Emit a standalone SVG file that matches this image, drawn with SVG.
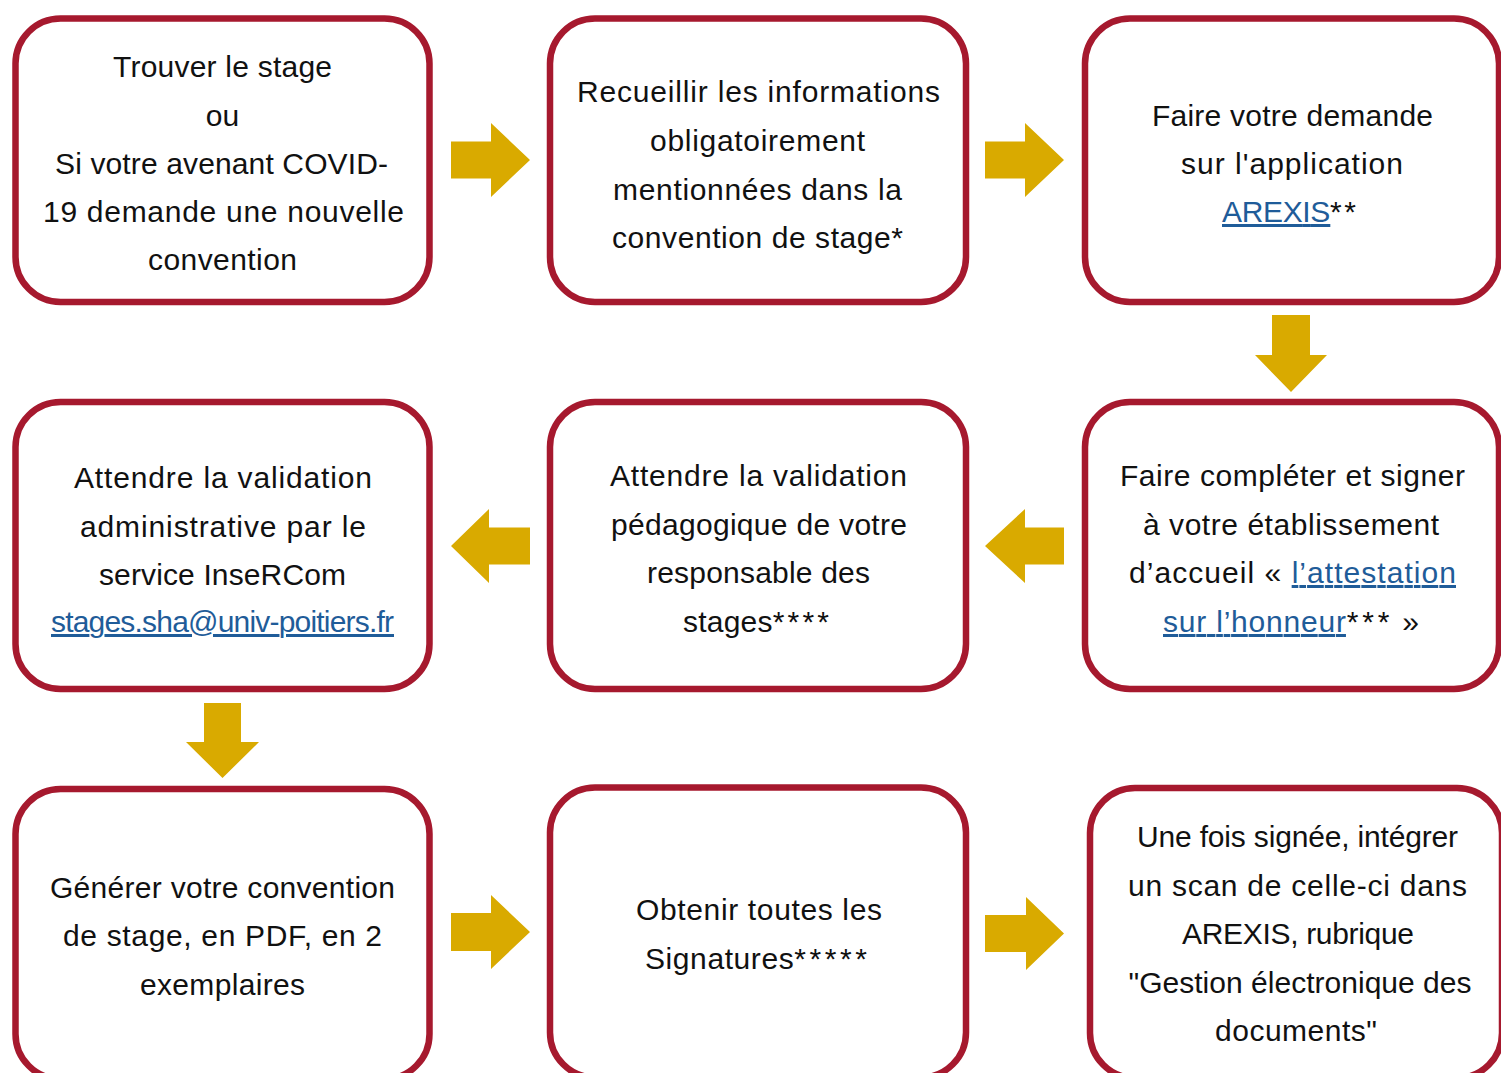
<svg xmlns="http://www.w3.org/2000/svg" width="1501" height="1073" viewBox="0 0 1501 1073">
<style>
.box{fill:#fff;stroke:#A6192E;stroke-width:6.5}
.arr{fill:#D9AA00}
text{font-family:"Liberation Sans",Arial,sans-serif;font-size:30px;fill:#111;text-anchor:middle}
.lnk{fill:#1F5C99;text-decoration:underline}
.ast{letter-spacing:3px}
</style>
<rect width="1501" height="1073" fill="#fff"/>
<g id="connectors">
<polygon class="arr" points="451,141.5 491,141.5 491,123 530,160 491,197 491,178.5 451,178.5"/>
<polygon class="arr" points="985,141.5 1025,141.5 1025,123 1064,160 1025,197 1025,178.5 985,178.5"/>
<polygon class="arr" points="1272,315 1310,315 1310,355 1327,355 1291,392 1255,355 1272,355"/>
<polygon class="arr" points="1064,527.5 1025,527.5 1025,509 985,546 1025,583 1025,564.5 1064,564.5"/>
<polygon class="arr" points="530,527.5 489,527.5 489,509 451,546 489,583 489,564.5 530,564.5"/>
<polygon class="arr" points="204,703 241,703 241,742 259,742 222.5,778 186,742 204,742"/>
<polygon class="arr" points="451,913 491,913 491,895 530,932 491,969 491,951 451,951"/>
<polygon class="arr" points="985,915 1026,915 1026,897 1064,933.5 1026,970 1026,952 985,952"/>
</g>
<g id="n1"><rect class="box" x="15.5" y="18.5" width="414" height="283.5" rx="45"/>
<text x="222.5" y="77" textLength="219" lengthAdjust="spacing">Trouver le stage</text>
<text x="222.5" y="125.5">ou</text>
<text x="221.5" y="173.5" textLength="333" lengthAdjust="spacing">Si votre avenant COVID-</text>
<text x="223.5" y="222" textLength="361" lengthAdjust="spacing">19 demande une nouvelle</text>
<text x="222.5" y="270" textLength="149" lengthAdjust="spacing">convention</text></g>
<g id="n2"><rect class="box" x="550" y="18.5" width="416" height="283.5" rx="45"/>
<text x="758.5" y="102" textLength="363" lengthAdjust="spacing">Recueillir les informations</text>
<text x="757.5" y="150.5" textLength="215" lengthAdjust="spacing">obligatoirement</text>
<text x="757.5" y="199.5" textLength="289" lengthAdjust="spacing">mentionnées dans la</text>
<text x="757.5" y="247.5" textLength="291" lengthAdjust="spacing">convention de stage*</text></g>
<g id="n3"><rect class="box" x="1085" y="18.5" width="414" height="283.5" rx="45"/>
<text x="1292.5" y="126" textLength="281" lengthAdjust="spacing">Faire votre demande</text>
<text x="1292" y="174" textLength="222" lengthAdjust="spacing">sur l'application</text>
<text x="1290.5" y="222" textLength="137" lengthAdjust="spacing"><tspan class="lnk">AREXIS</tspan><tspan class="ast">**</tspan></text></g>
<g id="n6"><rect class="box" x="1085" y="402" width="414" height="287" rx="45"/>
<text x="1292.5" y="486" textLength="345" lengthAdjust="spacing">Faire compléter et signer</text>
<text x="1291" y="535" textLength="296" lengthAdjust="spacing">à votre établissement</text>
<text x="1292.5" y="583" textLength="327" lengthAdjust="spacing">d’accueil « <tspan class="lnk">l’attestation</tspan></text>
<text x="1291" y="632" textLength="256" lengthAdjust="spacing"><tspan class="lnk">sur l’honneur</tspan><tspan class="ast">***</tspan> »</text></g>
<g id="n5"><rect class="box" x="550" y="402" width="416" height="287" rx="45"/>
<text x="758.5" y="486" textLength="297" lengthAdjust="spacing">Attendre la validation</text>
<text x="759" y="535" textLength="296" lengthAdjust="spacing">pédagogique de votre</text>
<text x="758.5" y="583" textLength="223" lengthAdjust="spacing">responsable des</text>
<text x="757.5" y="632" textLength="149" lengthAdjust="spacing">stages<tspan class="ast">****</tspan></text></g>
<g id="n4"><rect class="box" x="15.5" y="402" width="414" height="287" rx="45"/>
<text x="223" y="488" textLength="298" lengthAdjust="spacing">Attendre la validation</text>
<text x="223" y="537" textLength="286" lengthAdjust="spacing">administrative par le</text>
<text x="222.5" y="585" textLength="247" lengthAdjust="spacing">service InseRCom</text>
<text x="222.5" y="632" textLength="343" lengthAdjust="spacing"><tspan class="lnk">stages.sha@univ-poitiers.fr</tspan></text></g>
<g id="n7"><rect class="box" x="15.5" y="789" width="414" height="290" rx="45"/>
<text x="222.5" y="898" textLength="345" lengthAdjust="spacing">Générer votre convention</text>
<text x="222.5" y="946" textLength="319" lengthAdjust="spacing">de stage, en PDF, en 2</text>
<text x="222.5" y="995" textLength="165" lengthAdjust="spacing">exemplaires</text></g>
<g id="n8"><rect class="box" x="550" y="787.5" width="416" height="290" rx="45"/>
<text x="759" y="920" textLength="246" lengthAdjust="spacing">Obtenir toutes les</text>
<text x="757.5" y="969" textLength="225" lengthAdjust="spacing">Signatures<tspan class="ast">*****</tspan></text></g>
<g id="n9"><rect class="box" x="1090" y="788" width="412" height="290" rx="45"/>
<text x="1297.5" y="847" textLength="321" lengthAdjust="spacing">Une fois signée, intégrer</text>
<text x="1297.5" y="896" textLength="339" lengthAdjust="spacing">un scan de celle-ci dans</text>
<text x="1298" y="944" textLength="232" lengthAdjust="spacing">AREXIS, rubrique</text>
<text x="1300" y="993" textLength="343" lengthAdjust="spacing">"Gestion électronique des</text>
<text x="1296" y="1041" textLength="162" lengthAdjust="spacing">documents"</text></g>
</svg>
